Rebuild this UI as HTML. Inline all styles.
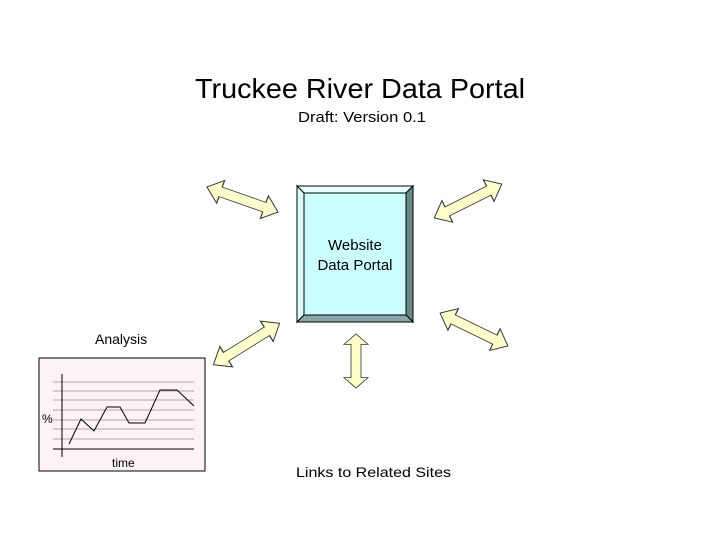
<!DOCTYPE html>
<html><head><style>html,body{margin:0;padding:0;background:#fff}svg{display:block}</style></head>
<body>
<svg width="720" height="540" xmlns="http://www.w3.org/2000/svg" font-family="Liberation Sans, Arial, sans-serif">
<defs>
<polygon id="arr" points="-26,0 -16,-12 -16,-5 16,-5 16,-12 26,0 16,12 16,5 -16,5 -16,12" />
</defs>
<text x="195" y="98" font-size="28" textLength="330" lengthAdjust="spacingAndGlyphs">Truckee River Data Portal</text>
<text x="298" y="122" font-size="15" textLength="128" lengthAdjust="spacingAndGlyphs">Draft: Version 0.1</text>

<polygon points="297,186 413,186 406,193 304,193" fill="#e8ffff" stroke="#000" stroke-width="1"/>
<polygon points="297,186 304,193 304,315 297,322" fill="#d8ffff" stroke="#000" stroke-width="1"/>
<polygon points="413,186 413,322 406,315 406,193" fill="#6a8a8a" stroke="#000" stroke-width="1"/>
<polygon points="297,322 413,322 406,315 304,315" fill="#8aa8a8" stroke="#000" stroke-width="1"/>
<rect x="304" y="193" width="102" height="122" fill="#ccffff" stroke="#000" stroke-width="1"/>
<text x="355" y="250" font-size="15" text-anchor="middle">Website</text>
<text x="355" y="270" font-size="15" text-anchor="middle">Data Portal</text>

<g fill="#ffffcc" stroke="#333" stroke-width="0.8">
<g transform="translate(242.5,199.5) rotate(19.4) scale(1.45,1)"><use href="#arr"/></g>
<g transform="translate(468,201) rotate(-26.6) scale(1.45,1)"><use href="#arr"/></g>
<g transform="translate(246.5,344) rotate(-32) scale(1.5,1)"><use href="#arr"/></g>
<g transform="translate(474,329.5) rotate(25.9) scale(1.45,1)"><use href="#arr"/></g>
<g transform="translate(356,361) rotate(90) scale(1.04,1)"><use href="#arr"/></g>
</g>

<text x="95" y="344" font-size="14">Analysis</text>
<text x="296" y="477" font-size="14" textLength="155" lengthAdjust="spacingAndGlyphs">Links to Related Sites</text>

<rect x="39" y="358" width="166" height="113" fill="#fdf2f4" stroke="#000" stroke-width="1"/>
<g stroke="#aaa" stroke-width="1">
<line x1="53" y1="382" x2="194" y2="382"/>
<line x1="53" y1="391" x2="194" y2="391"/>
<line x1="53" y1="400" x2="194" y2="400"/>
<line x1="53" y1="410" x2="194" y2="410"/>
<line x1="53" y1="420" x2="194" y2="420"/>
<line x1="53" y1="429" x2="194" y2="429"/>
<line x1="53" y1="439" x2="194" y2="439"/>
</g>
<line x1="62" y1="374" x2="62" y2="457" stroke="#000"/>
<line x1="53" y1="449" x2="194" y2="449" stroke="#000"/>
<polyline points="69,444 81,419 94,431 107,407 120,407 129,423 145,423 160,390 177,390 194,406" fill="none" stroke="#000" stroke-width="1"/>
<text x="42" y="423" font-size="12">%</text>
<text x="112" y="467" font-size="12">time</text>
</svg>
</body></html>
